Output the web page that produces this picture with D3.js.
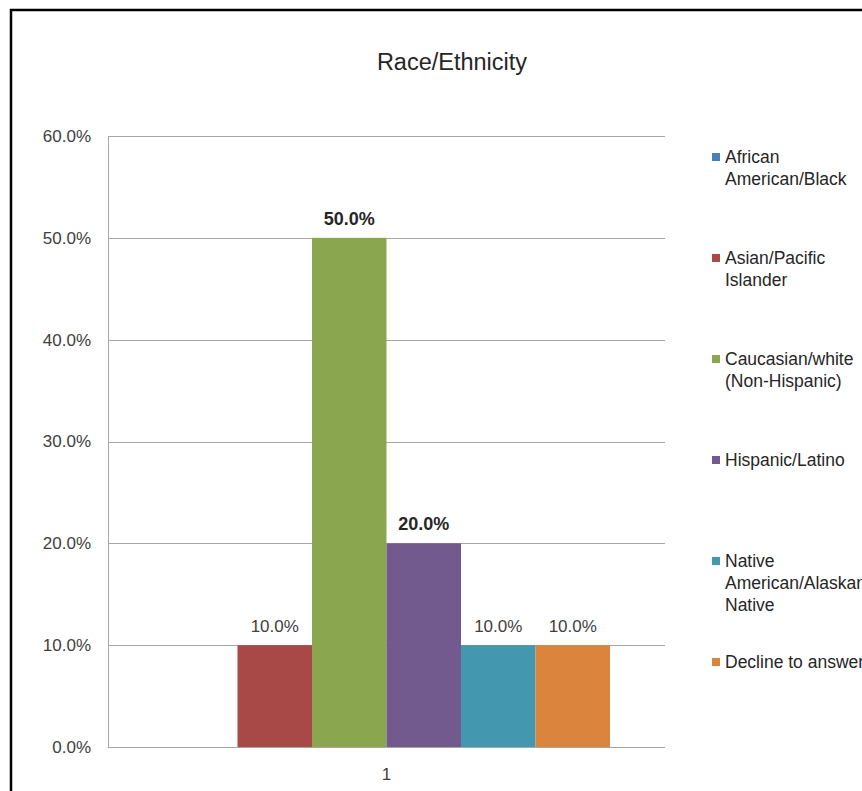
<!DOCTYPE html>
<html>
<head>
<meta charset="utf-8">
<script src="https://cdn.jsdelivr.net/npm/d3@7/dist/d3.min.js"></script>
<style>
  html, body { margin: 0; padding: 0; background: #fff; }
  svg { display: block; }
  text { font-family: "Liberation Sans", Arial, sans-serif; }
</style>
</head>
<body>
<svg id="chart" width="862" height="791"></svg>
<script>
const title = "Race/Ethnicity";
const categories = ["1"];
const seriesNames = [
  ["African", "American/Black"],
  ["Asian/Pacific", "Islander"],
  ["Caucasian/white", "(Non-Hispanic)"],
  ["Hispanic/Latino"],
  ["Native", "American/Alaskan", "Native"],
  ["Decline to answer"]
];
const seriesValues = [0, 0.10, 0.50, 0.20, 0.10, 0.10];
const boldLabels = [false, false, true, true, false, false];
const seriesColors = ["#4A7EBB", "#A84847", "#8AA64F", "#72598E", "#4398AF", "#DB843E"];
const yTicks = [0, 0.1, 0.2, 0.3, 0.4, 0.5, 0.6];

const svg = d3.select("#chart");

// outer chart border
svg.append("rect")
  .attr("x", 11).attr("y", 10)
  .attr("width", 900).attr("height", 900)
  .attr("fill", "none").attr("stroke", "#000").attr("stroke-width", 2.5);

const plot = { left: 108, right: 665, top: 136, bottom: 747 };

const y = d3.scaleLinear().domain([0, 0.6]).range([plot.bottom, plot.top]);
const x0 = d3.scaleBand().domain(categories).range([plot.left, plot.right]).paddingInner(0).paddingOuter(0.123);
const x1 = d3.scaleBand().domain(d3.range(seriesValues.length)).range([0, x0.bandwidth()]).padding(0);

// gridlines
svg.append("g").selectAll("line").data(yTicks).join("line")
  .attr("x1", plot.left).attr("x2", plot.right)
  .attr("y1", d => Math.round(y(d)) + 0.5).attr("y2", d => Math.round(y(d)) + 0.5)
  .attr("stroke", "#A6A6A6").attr("stroke-width", 1);

// left axis line
svg.append("line")
  .attr("x1", plot.left + 0.5).attr("x2", plot.left + 0.5)
  .attr("y1", plot.top).attr("y2", plot.bottom)
  .attr("stroke", "#A6A6A6");

// y axis
const yAxis = d3.axisLeft(y).tickValues(yTicks).tickFormat(d3.format(".1%")).tickSize(0).tickPadding(17);
const yg = svg.append("g").attr("transform", `translate(${plot.left},0)`).call(yAxis);
yg.select(".domain").remove();
yg.selectAll("text").attr("font-size", "17px").attr("fill", "#404040")
  .attr("font-family", "'Liberation Sans', Arial, sans-serif");

// x axis
const xAxis = d3.axisBottom(x0).tickSize(0).tickPadding(21);
const xg = svg.append("g").attr("transform", `translate(0,${plot.bottom})`).call(xAxis);
xg.select(".domain").remove();
xg.selectAll("text").attr("font-size", "17px").attr("fill", "#404040")
  .attr("font-family", "'Liberation Sans', Arial, sans-serif");

// bars
const barData = seriesValues.map((v, i) => ({ i, v, bold: boldLabels[i], color: seriesColors[i] }));
const g = svg.append("g").attr("transform", `translate(${x0(categories[0])},0)`);
g.selectAll("rect").data(barData).join("rect")
  .attr("x", d => x1(d.i))
  .attr("y", d => y(d.v))
  .attr("width", x1.bandwidth())
  .attr("height", d => y(0) - y(d.v))
  .attr("fill", d => d.color);

// data labels
g.selectAll("text.lbl").data(barData.filter(d => d.v > 0)).join("text")
  .attr("class", "lbl")
  .attr("x", d => x1(d.i) + x1.bandwidth() / 2)
  .attr("y", d => y(d.v) - 13)
  .attr("text-anchor", "middle")
  .attr("font-size", d => d.bold ? "18px" : "17px")
  .attr("font-weight", d => d.bold ? "bold" : "normal")
  .attr("fill", d => d.bold ? "#262626" : "#404040")
  .text(d => d3.format(".1%")(d.v));

// title
svg.append("text")
  .attr("x", 452).attr("y", 70)
  .attr("text-anchor", "middle")
  .attr("font-size", "23.5px")
  .attr("fill", "#262626")
  .text(title);

// legend
const ly = d3.scaleLinear().domain([0, seriesNames.length - 1]).range([157, 662]);
const leg = svg.append("g").selectAll("g").data(seriesNames).join("g")
  .attr("transform", (d, i) => `translate(712,${ly(i)})`);
leg.append("rect")
  .attr("x", 0).attr("y", -4).attr("width", 8).attr("height", 8)
  .attr("fill", (d, i) => seriesColors[i]);
leg.append("text")
  .attr("x", 13).attr("y", 0)
  .attr("font-size", "17.5px").attr("fill", "#262626")
  .selectAll("tspan").data(d => d).join("tspan")
  .attr("x", 13)
  .attr("dy", (d, j) => j === 0 ? "0.35em" : "22px")
  .text(d => d);
</script>
</body>
</html>
